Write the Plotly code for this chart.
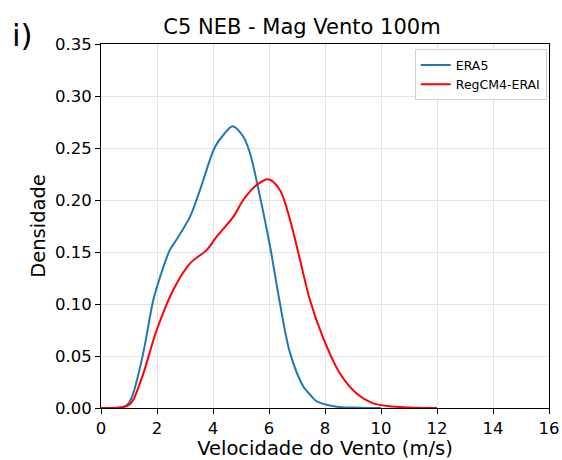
import plotly.graph_objects as go

era5_x = [0.0, 0.5, 0.8, 1.0, 1.15, 1.51, 1.87, 2.11, 2.46, 2.70, 3.18, 3.54, 4.07, 4.37, 4.70, 5.08, 5.32, 5.68, 6.04, 6.39, 6.75, 7.23, 7.46, 7.70, 7.94, 8.42, 9.0, 9.5, 10.0]
era5_y = [0.0, 0.0, 0.001, 0.005, 0.014, 0.053, 0.104, 0.126, 0.152, 0.162, 0.184, 0.210, 0.251, 0.2625, 0.271, 0.261, 0.245, 0.203, 0.155, 0.1007, 0.053, 0.0205, 0.013, 0.0065, 0.0040, 0.0013, 0.0004, 0.0001, 0.0]

reg_x = [0.0, 0.5, 0.8, 1.0, 1.15, 1.51, 1.99, 2.58, 3.18, 3.78, 4.13, 4.73, 5.08, 5.56, 5.98, 6.39, 6.75, 7.11, 7.46, 7.94, 8.54, 9.13, 9.73, 10.4, 11.0, 12.0]
reg_y = [0.0, 0.0, 0.001, 0.003, 0.0077, 0.033, 0.075, 0.1135, 0.139, 0.152, 0.1647, 0.184, 0.200, 0.2144, 0.2199, 0.2096, 0.181, 0.1423, 0.104, 0.067, 0.033, 0.014, 0.0045, 0.0015, 0.0005, 0.0]

x_ticks = [0, 2, 4, 6, 8, 10, 12, 14, 16]
y_ticks = [0.00, 0.05, 0.10, 0.15, 0.20, 0.25, 0.30, 0.35]

font = "DejaVu Sans"

L, R, T, B = 101, 13, 44, 52
W, H = 562, 460

fig = go.Figure()
fig.add_trace(go.Scatter(x=era5_x, y=era5_y, mode="lines", name="ERA5",
                         line=dict(color="#1f77b4", width=2, shape="spline", smoothing=0.9)))
fig.add_trace(go.Scatter(x=reg_x, y=reg_y, mode="lines", name="RegCM4-ERAI",
                         line=dict(color="red", width=2, shape="spline", smoothing=0.9)))

axis_common = dict(showline=True, linecolor="black", linewidth=1, mirror=True,
                   ticks="outside", ticklen=5, tickcolor="black", automargin=False,
                   showgrid=True, gridcolor="#e3e3e3", gridwidth=1, zeroline=False,
                   tickfont=dict(family=font, size=16.5, color="black"))

fig.update_layout(
    width=W, height=H,
    margin=dict(l=L, r=R, t=T, b=B, autoexpand=False),
    paper_bgcolor="white", plot_bgcolor="white",
    font=dict(family=font, color="black"),
    title=dict(text="C5 NEB - Mag Vento 100m", x=302 / W, xanchor="center",
               y=1 - 27 / H, yanchor="middle", font=dict(family=font, size=21, color="black")),
    xaxis=dict(range=[0, 16], tickvals=x_ticks, ticktext=[str(v) for v in x_ticks],
               title=dict(text="Velocidade do Vento (m/s)", font=dict(family=font, size=19.5), standoff=3),
               **axis_common),
    yaxis=dict(range=[0, 0.35], tickvals=y_ticks, tickformat=".2f",
               title=dict(text="Densidade", font=dict(family=font, size=19.5), standoff=4),
               **axis_common),
    legend=dict(x=0.995, y=0.985, xanchor="right", yanchor="top",
                bgcolor="white", bordercolor="#d0d0d0", borderwidth=1,
                font=dict(family=font, size=12.5, color="black")),
    showlegend=True,
)

fig.add_annotation(text="i)", xref="paper", yref="paper",
                   x=-L / (W - L - R), y=1 + (T - 35) / (H - T - B),
                   xanchor="left", yanchor="middle", showarrow=False, xshift=10,
                   font=dict(family=font, size=31, color="black"))

fig.write_html("out.html", config={"displayModeBar": False},
               post_script="document.body.style.margin='0';document.body.style.overflow='hidden';")
